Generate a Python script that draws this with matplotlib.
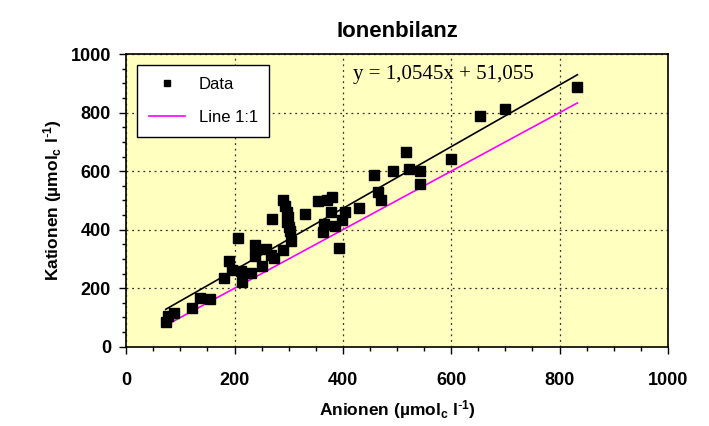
import matplotlib.pyplot as plt
from matplotlib.ticker import MultipleLocator
import numpy as np

# Anionen / Kationen (umol_c/l)
anionen = [73, 78, 89, 121, 136, 155, 180, 190, 196, 206, 212, 214, 230, 238,
           237, 250, 259, 267, 273, 269, 289, 290, 293, 296, 298, 297, 300, 303,
           305, 330, 355, 370, 380, 378, 366, 363, 385, 399, 404, 393, 430, 458,
           464, 470, 492, 517, 523, 543, 542, 600, 654, 700, 833]
kationen = [83, 106, 117, 134, 167, 163, 234, 292, 264, 371, 259, 222, 252, 347,
            309, 275, 333, 312, 303, 438, 500, 329, 480, 460, 445, 425, 410, 395,
            362, 452, 497, 500, 511, 459, 418, 391, 411, 432, 460, 336, 474, 588,
            528, 500, 602, 667, 607, 602, 557, 640, 787, 814, 887]

slope = 1.0545
intercept = 51.055

plt.rcParams['font.family'] = ['Liberation Sans', 'DejaVu Sans']
plt.rcParams['mathtext.default'] = 'regular'

fig = plt.figure(figsize=(7.09, 4.26), dpi=100)
ax = fig.add_axes([0.178, 0.186, 0.764, 0.687])
ax.set_facecolor('#FFFFC0')

x = np.array(anionen)
xl = np.array([x.min(), x.max()])

ax.plot(x, kationen, 's', color='black', markersize=6.5, label='Data', zorder=3)
ax.plot(xl, slope * xl + intercept, color='black', lw=1.2, zorder=2)
ax.plot(xl, xl, color='#FF00FF', lw=1.2, label='Line 1:1', zorder=2)

ax.set_xlim(0, 1000)
ax.set_ylim(0, 1000)
ax.xaxis.set_major_locator(MultipleLocator(200))
ax.yaxis.set_major_locator(MultipleLocator(200))
ax.xaxis.set_minor_locator(MultipleLocator(50))
ax.yaxis.set_minor_locator(MultipleLocator(50))
ax.tick_params(which='major', direction='out', length=5, width=1, labelsize=13)
ax.tick_params(axis='x', which='major', pad=13)
ax.tick_params(axis='y', which='major', pad=6)
ax.tick_params(which='minor', direction='out', length=3, width=1)
for lab in ax.get_xticklabels() + ax.get_yticklabels():
    lab.set_fontweight('bold')
ax.grid(True, which='major', color='#333333', linestyle=(0, (1.5, 3)), lw=0.9)
for s in ax.spines.values():
    s.set_linewidth(1.2)

ax.set_xlabel(r'Anionen (µmol$_c$ l$^{\text{-}1}$)', fontsize=12.5, fontweight='bold', labelpad=7)
ax.set_ylabel(r'Kationen (µmol$_c$ l$^{\text{-}1}$)', fontsize=12.5, fontweight='bold', labelpad=5)
ax.set_title('Ionenbilanz', fontsize=16, fontweight='bold', pad=12)

ax.text(419, 932, 'y = 1,0545x + 51,055', family=['Liberation Serif'], fontsize=15,
        va='center', ha='left')

leg = ax.legend(loc='upper left', bbox_to_anchor=(0.02, 0.962), borderaxespad=0,
                fontsize=12, fancybox=False, edgecolor='black', framealpha=1,
                handlelength=2.2, labelspacing=1.1, borderpad=0.7, markerscale=0.75)
leg.get_frame().set_linewidth(1)

fig.savefig('out.png', dpi=100, facecolor='white')
